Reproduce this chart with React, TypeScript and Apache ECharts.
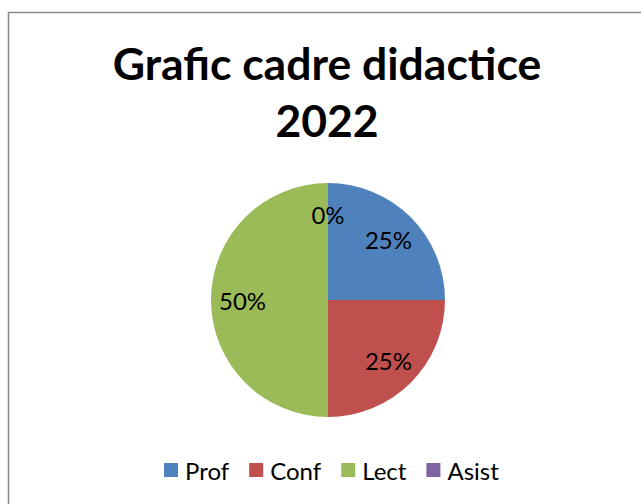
import React, { useEffect, useRef } from "react";
import * as echarts from "echarts";

const titleLines = ["Grafic cadre didactice", "2022"];
const categories = ["Prof", "Conf", "Lect", "Asist"];
const values = [1, 1, 2, 0];
const colors = ["#4F81BD", "#C0504D", "#9BBB59", "#8064A2"];

export default function App() {
  const ref = useRef<HTMLDivElement>(null);
  useEffect(() => {
    if (!ref.current) return;
    const chart = echarts.init(ref.current, undefined, { renderer: "svg" });
    const data = categories.map((name, i) => ({ name, value: values[i], itemStyle: { color: colors[i] } }));
    const total = values.reduce((a, b) => a + b, 0);
    chart.setOption({
      animation: false,
      backgroundColor: "#ffffff",
      title: {
        text: titleLines.join("\n"),
        left: 322,
        textAlign: "center",
        top: 29,
        textStyle: { fontFamily: "Lato", fontWeight: "bold", fontSize: 44.5, lineHeight: 57, color: "#000" },
      },
      legend: {
        bottom: 17,
        left: 159,
        itemWidth: 14,
        itemHeight: 14,
        itemGap: 20,
        icon: "rect",
        data: categories,
        textStyle: { fontFamily: "Lato", fontSize: 24, color: "#000", padding: [0, 0, 0, 2] },
      },
      graphic: [
        {
          type: "rect",
          shape: { x: 8.5, y: 12.5, width: 700, height: 600 },
          style: { fill: "none", stroke: "#888", lineWidth: 1.5 },
          silent: true,
          z: -1,
        },
      ],
      series: [
        {
          type: "pie",
          center: [328, 300],
          radius: [0, 117],
          startAngle: 90,
          clockwise: true,
          data,
          label: { show: false },
          labelLine: { show: false },
          emphasis: { disabled: true },
        },
        {
          type: "pie",
          center: [328, 300],
          radius: [48, 117],
          startAngle: 90,
          clockwise: true,
          silent: true,
          legendHoverLink: false,
          data: categories.map((name, i) => ({ name, value: values[i], itemStyle: { color: "transparent" } })),
          label: {
            show: true,
            position: "inside",
            fontFamily: "Lato",
            fontSize: 24,
            color: "#000",
            formatter: (p: any) => Math.round((p.value / total) * 100) + "%",
          },
          labelLine: { show: false },
          emphasis: { disabled: true },
          tooltip: { show: false },
        },
      ],
    });
    return () => chart.dispose();
  }, []);
  return <div ref={ref} style={{ position: "fixed", left: 0, top: 0, width: 641, height: 504 }} />;
}
